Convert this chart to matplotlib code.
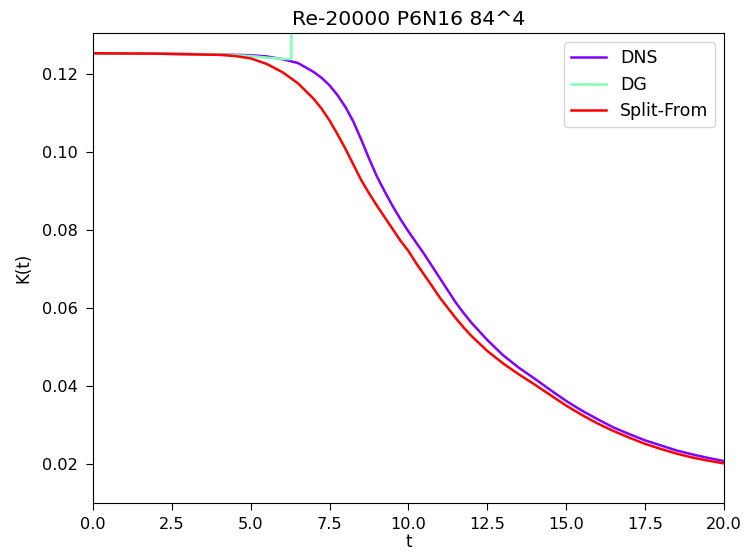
import matplotlib
matplotlib.use("Agg")
import matplotlib.pyplot as plt

# kinetic energy K(t) sampled from the runs
t_dns = [0, 2, 4, 5, 5.5, 6, 6.5, 7, 7.25, 7.5, 7.75, 8, 8.25, 8.5, 8.75,
         9, 9.25, 9.5, 9.75, 10, 10.25, 10.5, 10.75, 11, 11.25, 11.5, 11.75,
         12, 12.5, 13, 13.5, 14, 14.5, 15, 15.5, 16, 16.5, 17, 17.5, 18,
         18.5, 19, 19.5, 20]
k_dns = [0.1252, 0.1251, 0.1249, 0.1247, 0.1244, 0.1237, 0.1227, 0.1204,
         0.1189, 0.1170, 0.1145, 0.1115, 0.1078, 0.1032, 0.0983, 0.0937,
         0.0898, 0.0861, 0.0827, 0.0796, 0.0767, 0.0738, 0.0707, 0.0676,
         0.0645, 0.0614, 0.0587, 0.0562, 0.0518, 0.0479, 0.0447, 0.0419,
         0.0390, 0.0362, 0.0337, 0.0315, 0.0294, 0.0277, 0.0261, 0.0248,
         0.0235, 0.0225, 0.0216, 0.0208]

# DG blows up shortly after t=6
t_dg = [0, 2, 4, 5, 5.5, 6, 6.25, 6.29, 6.3]
k_dg = [0.1252, 0.1251, 0.1249, 0.1245, 0.1241, 0.1238, 0.1237, 0.1240, 0.5]

t_split = [0, 2, 4, 4.5, 5, 5.5, 6, 6.5, 7, 7.25, 7.5, 7.75, 8, 8.25, 8.5,
           8.75, 9, 9.25, 9.5, 9.75, 10, 10.25, 10.5, 10.75, 11, 11.25, 11.5,
           11.75, 12, 12.5, 13, 13.5, 14, 14.5, 15, 15.5, 16, 16.5, 17, 17.5,
           18, 18.5, 19, 19.5, 20]
k_split = [0.1252, 0.1251, 0.1248, 0.1245, 0.1239, 0.1225, 0.1204, 0.1175,
           0.1135, 0.1110, 0.1080, 0.1045, 0.1008, 0.0968, 0.0928, 0.0894,
           0.0862, 0.0832, 0.0802, 0.0772, 0.0746, 0.0714, 0.0685, 0.0656,
           0.0626, 0.0600, 0.0574, 0.0550, 0.0528, 0.0490, 0.0458, 0.0430,
           0.0404, 0.0377, 0.0350, 0.0326, 0.0304, 0.0285, 0.0268, 0.0252,
           0.0239, 0.0227, 0.0217, 0.0209, 0.0202]

cmap = plt.cm.rainbow
plt.rcParams['font.size'] = 12

fig = plt.figure(figsize=(7.5, 5.56), dpi=100)
ax = fig.add_axes([0.124, 0.095, 0.841, 0.845])
ax.plot(t_dns, k_dns, color=cmap(0.0), lw=1.8, label="DNS")
ax.plot(t_dg, k_dg, color=cmap(0.5), lw=1.8, label="DG")
ax.plot(t_split, k_split, color=cmap(1.0), lw=1.8, label="Split-From")

ax.set_xlim(0, 20)
ax.set_ylim(0.01, 0.1303)
ax.tick_params(labelsize=11.6, length=5)
ax.tick_params(axis="x", pad=5)
ax.tick_params(axis="y", pad=6)
ax.set_xlabel("t", labelpad=1)
ax.set_ylabel("K(t)", labelpad=7)
ax.set_title("Re-20000 P6N16 84^4", fontsize=14.7)
ax.legend(loc="upper right", fontsize=12.5)

fig.savefig("out.png", dpi=100)
